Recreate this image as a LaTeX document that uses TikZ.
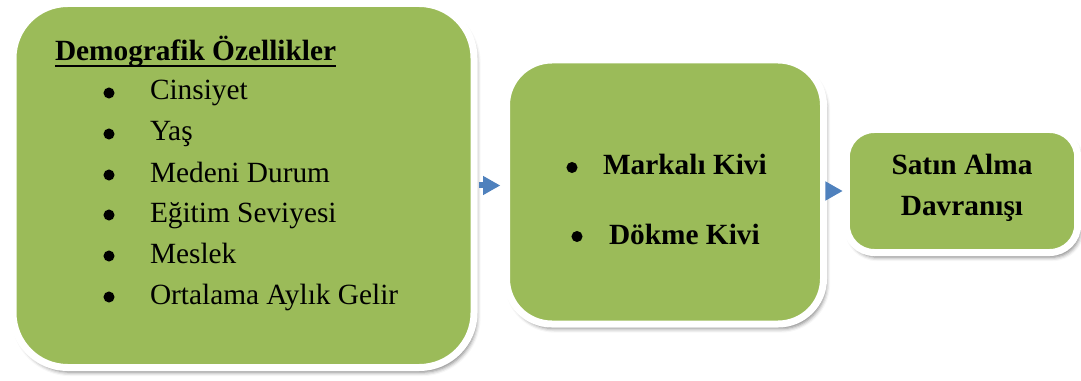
\documentclass[tikz,border=0pt]{standalone}
\usepackage{fontspec}
\setmainfont{Liberation Serif}
\usetikzlibrary{arrows.meta,shadows.blur}
\definecolor{boxgreen}{HTML}{9BBB59}
\definecolor{arrowblue}{HTML}{4F81BD}
\tikzset{
  greenbox/.style={draw=white, line width=5.25pt, fill=boxgreen, inner sep=0pt,
    blur shadow={shadow xshift=2pt, shadow yshift=-3.5pt, shadow blur radius=3pt, shadow opacity=50}},
  txt/.style={inner sep=0pt, outer sep=0pt, font=\fontsize{22}{26}\selectfont, text=black},
  btxt/.style={txt, font=\fontsize{22}{26}\selectfont\bfseries},
  bul/.style={circle, fill=black, inner sep=0pt, minimum size=8.3pt},
  flow/.style={draw=arrowblue, line width=4.5pt, -{Triangle[length=13pt,width=13.5pt,fill=arrowblue]}}
}
\begin{document}
\begin{tikzpicture}[x=0.75pt,y=-0.75pt]
\useasboundingbox (0,0) rectangle (1081,381);
% boxes
\node[greenbox, rounded corners=41pt, minimum width=345.75pt, minimum height=273pt] (b1) at (243.5,185.5) {};
\node[greenbox, rounded corners=34pt, minimum width=237.75pt, minimum height=198pt] (b2) at (665,192) {};
\node[greenbox, rounded corners=21pt, minimum width=173.6pt, minimum height=92.25pt] (b3) at (962,191) {};
% box 1 texts
\node[btxt, anchor=base west] (t0) at (55,61) {Demografik Özellikler};
\draw[line width=1.5pt] ([yshift=-3.9pt]t0.base west) -- ([yshift=-3.9pt]t0.base east);
\node[bul] (d1) at (109,93) {};
\node[txt, anchor=base west] (i1) at (150,100) {Cinsiyet};
\node[bul] (d2) at (109,134) {};
\node[txt, anchor=base west] (i2) at (150,141) {Yaş};
\node[bul] (d3) at (109,175) {};
\node[txt, anchor=base west] (i3) at (150,182) {Medeni Durum};
\node[bul] (d4) at (109,215) {};
\node[txt, anchor=base west] (i4) at (150,222) {Eğitim Seviyesi};
\node[bul] (d5) at (109,256) {};
\node[txt, anchor=base west] (i5) at (150,263) {Meslek};
\node[bul] (d6) at (109,297) {};
\node[txt, anchor=base west] (i6) at (150,304) {Ortalama Aylık Gelir};
% box 2 texts
\node[bul] (m1) at (572,167.5) {};
\node[btxt, anchor=base west] (k1) at (603,175) {Markalı Kivi};
\node[bul] (m2) at (577,236.5) {};
\node[btxt, anchor=base west] (k2) at (609,244) {Dökme Kivi};
% box 3 texts
\node[btxt, anchor=base] (s1) at (962,175) {Satın Alma};
\node[btxt, anchor=base] (s2) at (962,215) {Davranışı};
% arrows
\draw[flow, shorten <=1pt, shorten >=2pt] (b1.east) -- (b2.west |- b1.east);
\draw[flow, shorten <=-1pt] (b2.east |- b3.west) -- (b3.west);
\end{tikzpicture}
\end{document}
